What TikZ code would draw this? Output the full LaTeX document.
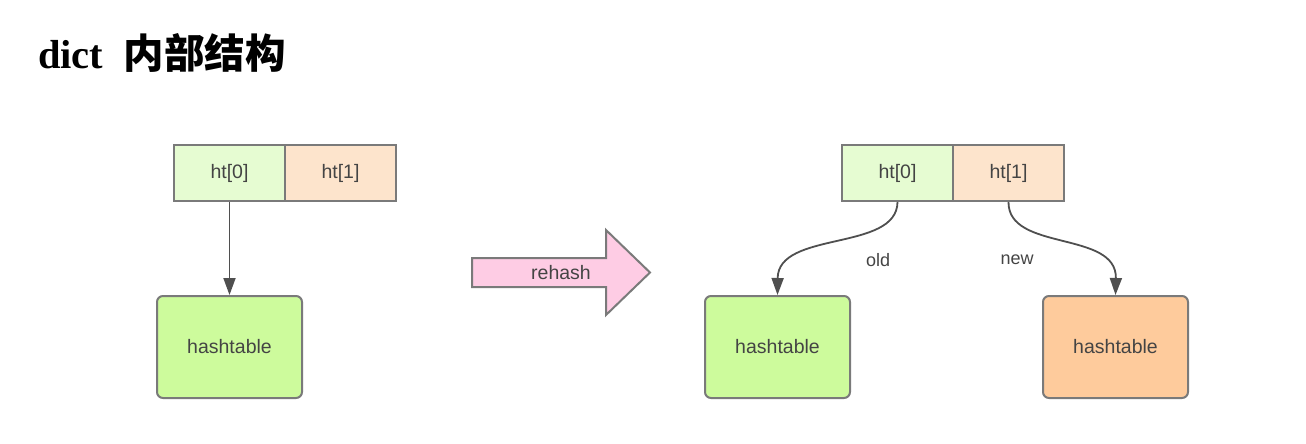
\documentclass[tikz,border=0pt]{standalone}
\usepackage{fontspec}
\setmainfont{Liberation Sans}
\newfontfamily\titleserif{Liberation Serif}
\newfontfamily\cjk{Noto Sans CJK SC}
\usetikzlibrary{arrows.meta}
\definecolor{bordergray}{HTML}{7A7A7A}
\definecolor{txtgray}{HTML}{444444}
\definecolor{lightgreen}{HTML}{E6FCD2}
\definecolor{lightorange}{HTML}{FDE4CC}
\definecolor{green}{HTML}{CDFB9C}
\definecolor{orange}{HTML}{FECB9C}
\definecolor{pink}{HTML}{FECCE4}
\definecolor{arrowgray}{HTML}{4F4F4F}
\tikzset{
  cell/.style={draw=bordergray, line width=2pt, minimum width=111pt, minimum height=56pt, inner sep=0pt, font=\fontsize{19.5}{22}\selectfont, text=txtgray},
  tablebox/.style={draw=bordergray, line width=2pt, rounded corners=6pt, minimum width=145pt, minimum height=102pt, inner sep=0pt, font=\fontsize{19.5}{22}\selectfont, text=txtgray},
  link/.style={draw=arrowgray, line width=1.8pt, -{Triangle[length=17pt,width=12pt]}},
  lbl/.style={font=\fontsize{18}{20}\selectfont, text=txtgray, inner sep=0pt}
}
\begin{document}
\begin{tikzpicture}[x=1pt,y=-1pt]
\useasboundingbox (0,0) rectangle (1306,444);
% title
\node[anchor=base west, inner sep=0pt] (title) at (38,68) {\fontsize{40.5}{42}\selectfont\titleserif\bfseries dict\hspace{0.5em}\cjk\bfseries 内部结构};
% left
\node[cell, fill=lightgreen] (l0) at (229.5,173) {ht[0]};
\node[cell, fill=lightorange] (l1) at (340.5,173) {ht[1]};
\node[tablebox, fill=green] (lh) at (229.5,347) {hashtable};
\draw[link] (l0.south) -- (lh.north);
% rehash arrow
\draw[draw=bordergray, fill=pink, line width=2pt, line join=miter]
  (472,258) -- (606,258) -- (606,230) -- (650,272.5) -- (606,315) -- (606,287) -- (472,287) -- cycle;
\node[lbl, font=\fontsize{19.5}{22}\selectfont] (rh) at (561,273) {rehash};
% right
\node[cell, fill=lightgreen] (r0) at (897.5,173) {ht[0]};
\node[cell, fill=lightorange] (r1) at (1008.5,173) {ht[1]};
\node[tablebox, fill=green] (rh1) at (777.5,347) {hashtable};
\node[tablebox, fill=orange] (rh2) at (1115.5,347) {hashtable};
\draw[link] (r0.south) .. controls (897,252) and (778,230) .. (rh1.north);
\draw[link] (r1.south) .. controls (1008,252) and (1117,230) .. (rh2.north);
\node[lbl] (old) at (878,260) {old};
\node[lbl] (new) at (1017,260) {new};
\end{tikzpicture}
\end{document}
